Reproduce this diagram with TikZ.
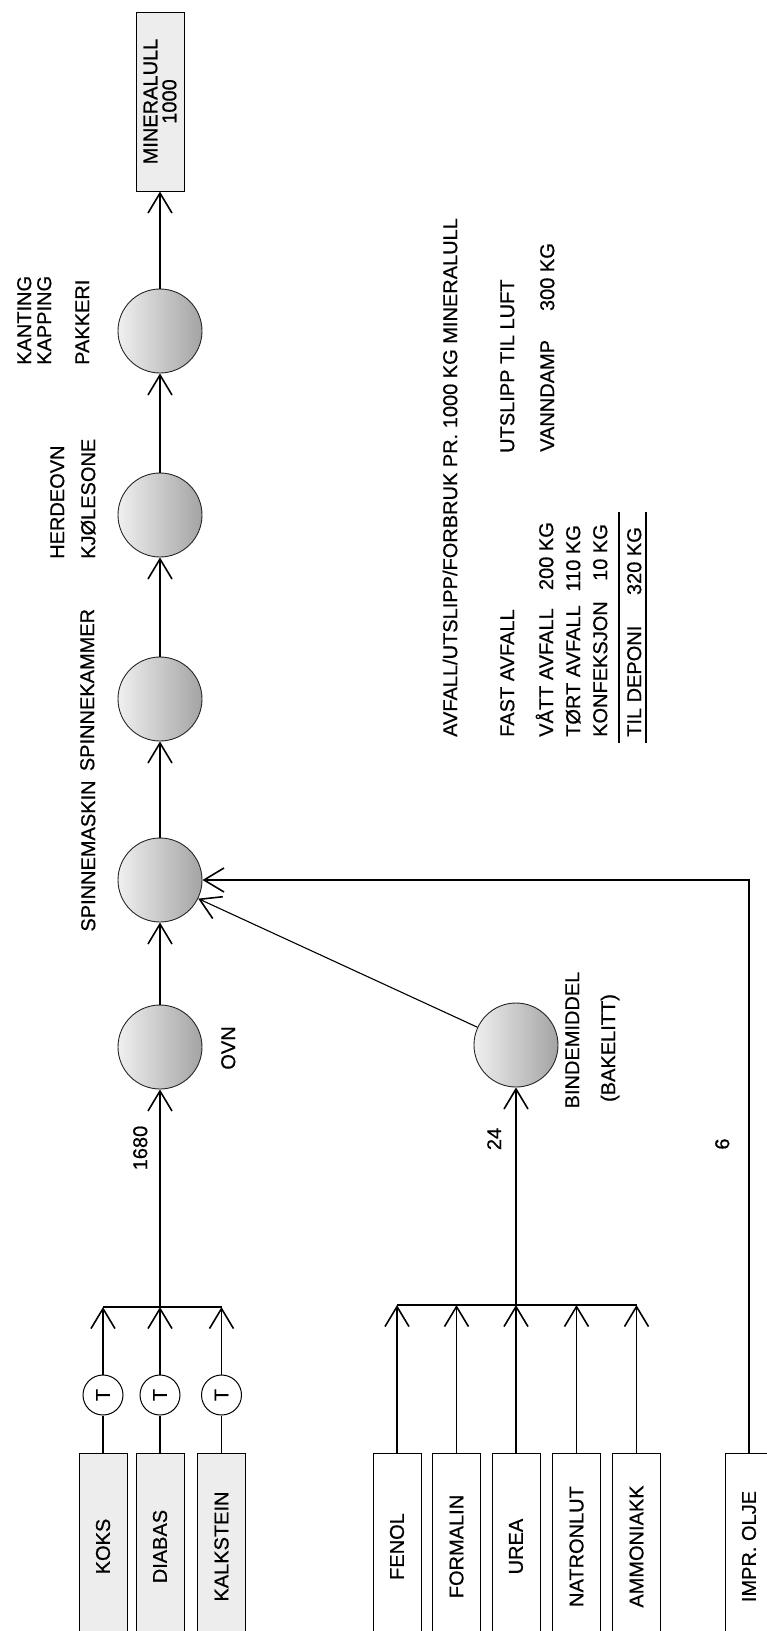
\documentclass[tikz,border=0pt]{standalone}
\usepackage{fontspec}
\setmainfont{Liberation Sans}[FakeBold=0.6]
\usetikzlibrary{arrows.meta,calc}
\newcommand\myfs{\fontsize{20}{22}\selectfont}
\tikzset{
  proc/.style={circle, draw=black!85, line width=0.9pt, minimum size=84pt, inner sep=0pt,
    left color=gray!12, right color=gray!72},
  tcirc/.style={circle, draw, line width=1pt, minimum size=40pt, inner sep=0pt, fill=white,
    rotate=90, font=\myfs},
  inbox/.style={draw, rectangle, rotate=90, minimum width=187pt, minimum height=48pt,
    inner sep=0pt, line width=1pt, font=\myfs},
  grayfill/.style={fill=gray!14},
  lbl/.style={rotate=90, font=\myfs, inner sep=0pt, text height=14.3pt, text depth=0pt},
  ln/.style={line width=1.1pt},
  arr/.style={line width=1.1pt, -{Straight Barb[length=20pt,width=24pt,line width=1.6pt]}},
}
\begin{document}
\begin{tikzpicture}[x=1pt,y=-1pt]
\clip (0,0) rectangle (767,1631);
\fill[white] (0,0) rectangle (767,1631);

% main chain
\node[proc] (ovn) at (160,1047) {};
\node[proc] (spm) at (160,880) {};
\node[proc] (spk) at (160,699) {};
\node[proc] (her) at (160,515) {};
\node[proc] (pak) at (160,331) {};
\node[draw, grayfill, rectangle, rotate=90, minimum width=179pt, minimum height=48pt,
  inner sep=0pt, line width=1pt, font=\myfs, align=center] (min) at (160,101.5)
  {MINERALULL\\[-3pt]1000};
\node[proc] (bind) at (516,1045) {};

% labels of the chain
\node[lbl] (lovn) at (228,1048) {OVN};
\node[lbl] (l1680) at (140,1148) {1680};
\node[lbl] (lspm) at (88,856) {SPINNEMASKIN};
\node[lbl] (lspk) at (87,690) {SPINNEKAMMER};
\node[lbl, anchor=west] (lher1) at (57,559) {HERDEOVN};
\node[lbl, anchor=west] (lher2) at (88,559) {KJØLESONE};
\node[lbl, anchor=west] (lpak1) at (24,365) {KANTING};
\node[lbl, anchor=west] (lpak2) at (44,365) {KAPPING};
\node[lbl, anchor=west] (lpak3) at (82,365) {PAKKERI};
\node[lbl] (lbind1) at (572,1040) {BINDEMIDDEL};
\node[lbl] (lbind2) at (608,1048) {(BAKELITT)};
\node[lbl] (l24) at (494,1139) {24};
\node[lbl] (l6) at (722,1144) {6};

% raw materials group 1
\node[inbox, grayfill] (koks) at (103,1546.5) {KOKS};
\node[inbox, grayfill] (diab) at (160,1546.5) {DIABAS};
\node[inbox, grayfill] (kalk) at (221.5,1546.5) {KALKSTEIN};
\node[tcirc] (t1) at (103,1395) {T};
\node[tcirc] (t2) at (160,1395) {T};
\node[tcirc] (t3) at (221.5,1395) {T};
\coordinate (c1) at (103,1307);
\coordinate (c2) at (160,1307);
\coordinate (c3) at (221.5,1307);

% raw materials group 2
\node[inbox] (fen) at (397,1546.5) {FENOL};
\node[inbox] (form) at (456.5,1546.5) {FORMALIN};
\node[inbox] (urea) at (516,1546.5) {UREA};
\node[inbox] (natr) at (576.5,1546.5) {NATRONLUT};
\node[inbox] (amm) at (636.5,1546.5) {AMMONIAKK};
\node[inbox] (impr) at (749,1546.5) {IMPR. OLJE};
\coordinate (d1) at (397,1305);
\coordinate (d3) at (516,1305);
\coordinate (d5) at (636.5,1305);

% connectors group 1
\draw[ln] (koks) -- (t1);
\draw[ln] (diab) -- (t2);
\draw[ln] (kalk) -- (t3);
\draw[arr] (t1) -- (t1 |- c1);
\draw[arr] (t2) -- (t2 |- c2);
\draw[arr] (t3) -- (t3 |- c3);
\draw[ln] (c1) -- (c3);
\draw[arr] (c2) -- (ovn);

% connectors group 2
\draw[arr] (fen) -- (fen |- d1);
\draw[arr] (form) -- (form |- d1);
\draw[arr] (urea) -- (urea |- d1);
\draw[arr] (natr) -- (natr |- d1);
\draw[arr] (amm) -- (amm |- d1);
\draw[ln] (d1) -- (d5);
\draw[arr] (d3) -- (bind);

% chain connectors
\draw[arr] (ovn) -- (spm);
\draw[arr] (spm) -- (spk);
\draw[arr] (spk) -- (her);
\draw[arr] (her) -- (pak);
\draw[arr] (pak) -- (min);
\draw[arr] (bind) -- (spm.-26);
\draw[arr] (impr) |- (spm);

% summary block
\node[lbl, anchor=west] (hdr) at (450,737) {AVFALL/UTSLIPP/FORBRUK PR. 1000 KG MINERALULL};
\node[lbl, anchor=west] (fast) at (507,737) {FAST AVFALL};
\node[lbl, anchor=west] (luft) at (507,453) {UTSLIPP TIL LUFT};
\node[lbl, anchor=west] (vatt) at (546,737) {VÅTT AVFALL};
\node[lbl, anchor=east] (vattk) at (546,522) {200 KG};
\node[lbl, anchor=west] (vann) at (547,452) {VANNDAMP};
\node[lbl, anchor=east] (vannk) at (547,243) {300 KG};
\node[lbl, anchor=west] (tort) at (573,737) {TØRT AVFALL};
\node[lbl, anchor=east] (tortk) at (573,525) {110 KG};
\node[lbl, anchor=west] (konf) at (600,737) {KONFEKSJON};
\node[lbl, anchor=east] (konfk) at (600,524) {10 KG};
\node[lbl, anchor=west] (dep) at (634,737) {TIL DEPONI};
\node[lbl, anchor=east] (depk) at (634,527) {320 KG};
\coordinate (r1a) at (619,743);
\coordinate (r1b) at (619,512);
\coordinate (r2a) at (646,743);
\coordinate (r2b) at (646,512);
\draw[ln] (r1a) -- (r1b);
\draw[ln] (r2a) -- (r2b);
\end{tikzpicture}
\end{document}
